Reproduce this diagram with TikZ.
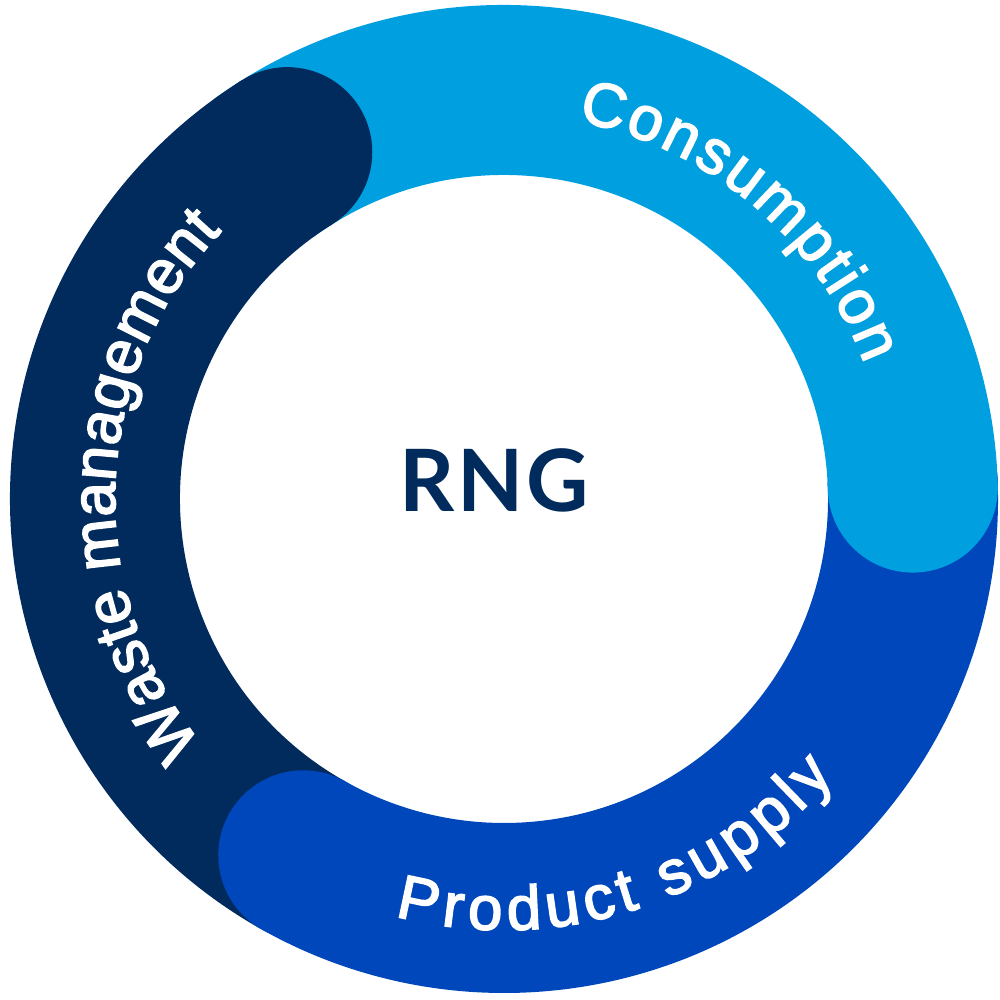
\documentclass[tikz,border=0pt]{standalone}
\usepackage{fontspec}
\setmainfont{Lato}
\newfontfamily\ringfont[FakeBold=2.6]{Liberation Sans}
\usetikzlibrary{decorations.text}
\definecolor{navy}{HTML}{002B5C}
\definecolor{sky}{HTML}{00A0E0}
\definecolor{royal}{HTML}{0047BB}
\tikzset{
  seg/.style={line width=170pt,line cap=butt},
  ringtext/.style={decorate,decoration={text along path,text align={fit to path},
     text={|\ringfont\fontsize{62pt}{62pt}\selectfont\color{white}|#1}}}
}
\begin{document}
\begin{tikzpicture}[x=1pt,y=1pt]
\useasboundingbox (0,0) rectangle (1000,1000);
\fill[white] (0,0) rectangle (1000,1000);
\coordinate (c) at (504,501);
\draw[seg,sky]   ([shift={(126:409pt)}]c) arc[start angle=126,end angle=1.6,radius=409pt];
\draw[seg,royal] ([shift={(3:409pt)}]c) arc[start angle=3,end angle=-119.5,radius=409pt];
\draw[seg,navy]  ([shift={(240.5:409pt)}]c) arc[start angle=240.5,end angle=122,radius=409pt];
\fill[sky]   ([shift={(1.6:409pt)}]c) circle[radius=85pt];
\fill[royal] ([shift={(240.6:409pt)}]c) circle[radius=85pt];
\fill[navy]  ([shift={(122:409pt)}]c) circle[radius=85pt];
\path[ringtext={Consumption}] ([shift={(79:385pt)}]c) arc[start angle=79,end angle=20.5,radius=385pt];
\path[ringtext={Waste management}] ([shift={(219:389pt)}]c) arc[start angle=219,end angle=136.5,radius=389pt];
\path[ringtext={Product supply}] ([shift={(255.3:431pt)}]c) arc[start angle=255.3,end angle=320,radius=431pt];
\node[font=\fontsize{86pt}{86pt}\selectfont\bfseries,text=navy] (rng) at (494,520) {\addfontfeature{LetterSpace=3}RNG};
\end{tikzpicture}
\end{document}
